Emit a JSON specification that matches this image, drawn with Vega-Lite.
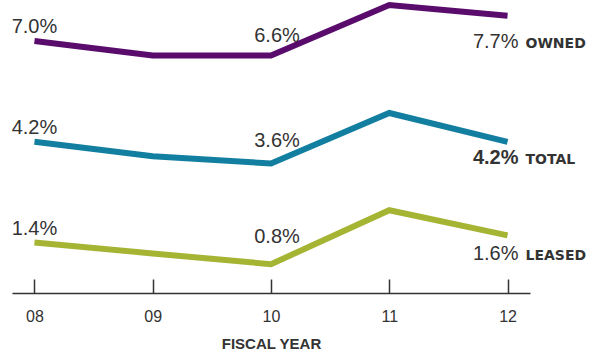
{
  "$schema": "https://vega.github.io/schema/vega-lite/v6.json",
  "width": 518,
  "height": 293,
  "autosize": "none",
  "padding": {"left": 12, "top": 0, "right": 60, "bottom": 60},
  "background": "white",
  "config": {"view": {"stroke": null}},
  "data": {
    "values": [
      {"year": "08", "series": "OWNED", "value": 0.070},
      {"year": "09", "series": "OWNED", "value": 0.066},
      {"year": "10", "series": "OWNED", "value": 0.066},
      {"year": "11", "series": "OWNED", "value": 0.080},
      {"year": "12", "series": "OWNED", "value": 0.077},
      {"year": "08", "series": "TOTAL", "value": 0.042},
      {"year": "09", "series": "TOTAL", "value": 0.038},
      {"year": "10", "series": "TOTAL", "value": 0.036},
      {"year": "11", "series": "TOTAL", "value": 0.050},
      {"year": "12", "series": "TOTAL", "value": 0.042},
      {"year": "08", "series": "LEASED", "value": 0.014},
      {"year": "09", "series": "LEASED", "value": 0.011},
      {"year": "10", "series": "LEASED", "value": 0.008},
      {"year": "11", "series": "LEASED", "value": 0.023},
      {"year": "12", "series": "LEASED", "value": 0.016}
    ]
  },
  "encoding": {
    "x": {
      "field": "year", "type": "ordinal",
      "scale": {"type": "point", "padding": 0.19},
      "axis": {
        "title": "FISCAL YEAR", "labelAngle": 0, "grid": false,
        "domainColor": "#333", "domainWidth": 1.5,
        "tickColor": "#333", "tickWidth": 1.5, "tickSize": -14,
        "labelPadding": 29, "labelBaseline": "top",
        "labelFont": "Liberation Sans", "labelFontSize": 16, "labelColor": "#333",
        "titleFont": "Liberation Sans", "titleFontSize": 15, "titleFontWeight": "bold",
        "titleColor": "#333", "titlePadding": 12
      }
    },
    "y": {
      "field": "value", "type": "quantitative",
      "scale": {"domain": [0, 0.0814], "nice": false, "zero": true},
      "axis": null
    }
  },
  "layer": [
    {
      "mark": {"type": "line", "strokeWidth": 6, "strokeJoin": "miter", "strokeCap": "butt", "clip": false},
      "encoding": {
        "color": {
          "field": "series", "type": "nominal", "legend": null,
          "scale": {"domain": ["OWNED", "TOTAL", "LEASED"], "range": ["#5a0c6c", "#137fa0", "#a6b434"]}
        }
      }
    },
    {
      "transform": [{"filter": "datum.year == '08'"}],
      "mark": {"type": "text", "align": "center", "baseline": "alphabetic", "dy": -8, "font": "Liberation Sans", "fontSize": 20, "color": "#333"},
      "encoding": {"text": {"field": "value", "type": "quantitative", "format": ".1%"}}
    },
    {
      "transform": [{"filter": "datum.year == '10' && datum.series == 'OWNED'"}],
      "mark": {"type": "text", "align": "center", "baseline": "alphabetic", "dx": 6, "dy": -13, "font": "Liberation Sans", "fontSize": 20, "color": "#333"},
      "encoding": {"text": {"field": "value", "type": "quantitative", "format": ".1%"}}
    },
    {
      "transform": [{"filter": "datum.year == '10' && datum.series == 'TOTAL'"}],
      "mark": {"type": "text", "align": "center", "baseline": "alphabetic", "dx": 6, "dy": -16, "font": "Liberation Sans", "fontSize": 20, "color": "#333"},
      "encoding": {"text": {"field": "value", "type": "quantitative", "format": ".1%"}}
    },
    {
      "transform": [{"filter": "datum.year == '10' && datum.series == 'LEASED'"}],
      "mark": {"type": "text", "align": "center", "baseline": "alphabetic", "dx": 6, "dy": -21, "font": "Liberation Sans", "fontSize": 20, "color": "#333"},
      "encoding": {"text": {"field": "value", "type": "quantitative", "format": ".1%"}}
    },
    {
      "transform": [{"filter": "datum.year == '12' && datum.series == 'OWNED'"}],
      "mark": {"type": "text", "align": "right", "baseline": "alphabetic", "dx": 11, "dy": 32, "font": "Liberation Sans", "fontSize": 20, "color": "#333"},
      "encoding": {"text": {"field": "value", "type": "quantitative", "format": ".1%"}}
    },
    {
      "transform": [{"filter": "datum.year == '12' && datum.series == 'OWNED'"}],
      "mark": {"type": "text", "align": "left", "baseline": "alphabetic", "dx": 18, "dy": 32, "font": "DejaVu Sans", "fontSize": 14, "fontWeight": "bold", "color": "#333"},
      "encoding": {"text": {"field": "series", "type": "nominal"}}
    },
    {
      "transform": [{"filter": "datum.year == '12' && datum.series == 'TOTAL'"}],
      "mark": {"type": "text", "align": "right", "baseline": "alphabetic", "dx": 11, "dy": 22, "font": "Liberation Sans", "fontSize": 20, "fontWeight": "bold", "color": "#333"},
      "encoding": {"text": {"field": "value", "type": "quantitative", "format": ".1%"}}
    },
    {
      "transform": [{"filter": "datum.year == '12' && datum.series == 'TOTAL'"}],
      "mark": {"type": "text", "align": "left", "baseline": "alphabetic", "dx": 18, "dy": 22, "font": "DejaVu Sans", "fontSize": 14, "fontWeight": "bold", "color": "#333"},
      "encoding": {"text": {"field": "series", "type": "nominal"}}
    },
    {
      "transform": [{"filter": "datum.year == '12' && datum.series == 'LEASED'"}],
      "mark": {"type": "text", "align": "right", "baseline": "alphabetic", "dx": 11, "dy": 25, "font": "Liberation Sans", "fontSize": 20, "color": "#333"},
      "encoding": {"text": {"field": "value", "type": "quantitative", "format": ".1%"}}
    },
    {
      "transform": [{"filter": "datum.year == '12' && datum.series == 'LEASED'"}],
      "mark": {"type": "text", "align": "left", "baseline": "alphabetic", "dx": 18, "dy": 25, "font": "DejaVu Sans", "fontSize": 14, "fontWeight": "bold", "color": "#333"},
      "encoding": {"text": {"field": "series", "type": "nominal"}}
    }
  ]
}
